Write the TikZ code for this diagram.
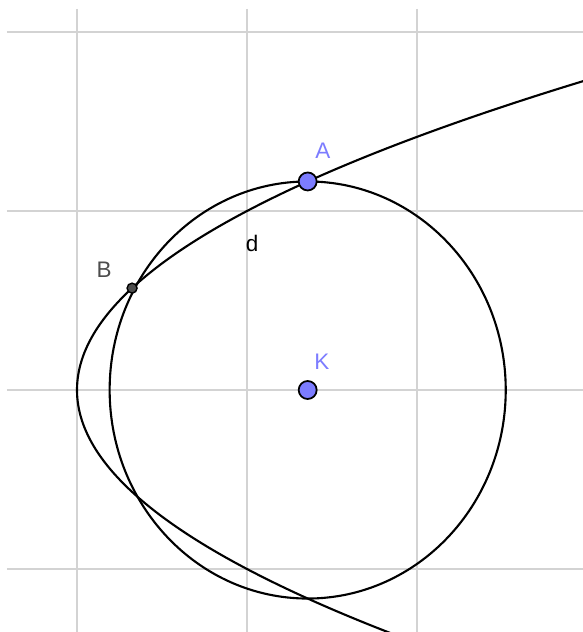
\documentclass[tikz,border=0pt]{standalone}
\usepackage{fontspec}
\setmainfont{Liberation Sans}
\definecolor{ptblue}{HTML}{7C7CFF}
\definecolor{ptgray}{HTML}{4D4D4D}
\definecolor{gridc}{HTML}{D3D3D3}
\tikzset{
  gridline/.style={draw=gridc, line width=0.6pt},
  curve/.style={draw=black, line width=0.6pt},
  bigpt/.style={circle, fill=ptblue, draw=black, line width=0.5pt, minimum size=1.8mm, inner sep=0pt},
  smallpt/.style={circle, fill=ptgray, draw=black, line width=0.4pt, minimum size=1.0mm, inner sep=0pt},
  lbl/.style={font=\fontsize{6.4}{7}\selectfont, inner sep=0pt}
}
\begin{document}
\begin{tikzpicture}[x=1.70cm, y=1.79cm]
\useasboundingbox (-0.45294,-1.35196) rectangle (2.97647,2.17877);
\clip (-0.45294,-1.35196) rectangle (2.97647,2.17877);
% grid
\foreach \yy in {-1,0,1,2} \draw[gridline] (-0.4118,\yy) -- (3.0,\yy);
\foreach \xx in {0,1,2} \draw[gridline] (\xx,2.1285) -- (\xx,-1.4);
% circle
\coordinate (Kc) at (1.357,0);
\draw[curve] (Kc) ellipse [x radius=1.9805cm, y radius=2.0854cm];
% parabola
\draw[curve] plot[domain=-1.40:1.76, samples=150, smooth] ({\x*\x},\x);
% points
\node[bigpt] (A) at (1.357,1.165) {};
\node[bigpt] (K) at (1.357,0) {};
\node[smallpt] (B) at (0.324,0.569) {};
% labels
\node[lbl, text=ptblue] (lA) at (1.447,1.335) {A};
\node[lbl, text=ptblue] (lK) at (1.441,0.156) {K};
\node[lbl, text=ptgray] (lB) at (0.159,0.670) {B};
\node[lbl, text=black] (ld) at (1.03,0.820) {d};
\end{tikzpicture}
\end{document}
